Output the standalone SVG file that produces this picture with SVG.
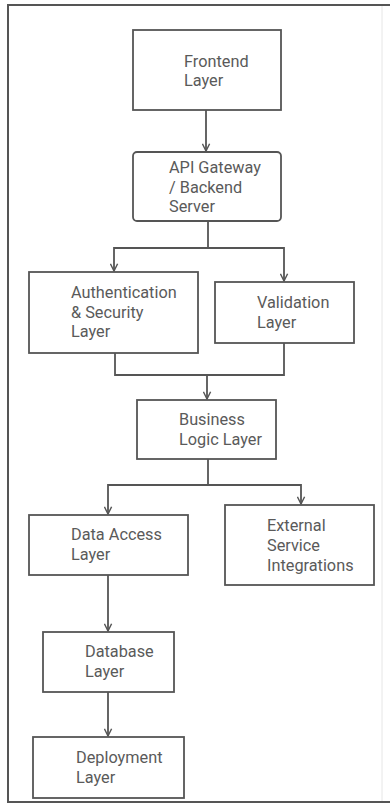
<svg xmlns="http://www.w3.org/2000/svg" width="390" height="803" viewBox="0 0 390 803">
<style>
.box{fill:#fff;stroke:#555;stroke-width:1.8}
.t{font-family:Roboto,"Liberation Sans",sans-serif;font-size:16.3px;fill:#5a5a5a}
.c{fill:none;stroke:#555;stroke-width:1.8}
</style>
<defs>
<marker id="ah" viewBox="0 0 10 10" refX="9" refY="5" markerWidth="9" markerHeight="9" markerUnits="userSpaceOnUse" orient="auto">
<path d="M1,1 L9,5 L1,9" fill="none" stroke="#555" stroke-width="1.6"/>
</marker>
</defs>
<rect width="390" height="803" fill="#fff"/>
<g id="frame">
<path d="M390,5 H8 V802 H390" fill="none" stroke="#555" stroke-width="2"/>
<line x1="382" y1="6" x2="382" y2="801" stroke="#e6e6e6" stroke-width="1"/>
</g>
<g id="connectors">
<path class="c" d="M206,110 V151" marker-end="url(#ah)"/>
<path class="c" d="M208,221 V248 H114 V271" marker-end="url(#ah)"/>
<path class="c" d="M208,248 H284 V281" marker-end="url(#ah)"/>
<path class="c" d="M115,353 V375 H284 V343"/>
<path class="c" d="M207,375 V399" marker-end="url(#ah)"/>
<path class="c" d="M208,459 V485 H108 V514" marker-end="url(#ah)"/>
<path class="c" d="M208,485 H301 V504" marker-end="url(#ah)"/>
<path class="c" d="M108,575 V631" marker-end="url(#ah)"/>
<path class="c" d="M108,692 V736" marker-end="url(#ah)"/>
</g>
<g id="frontend">
<rect class="box" x="133" y="30" width="148" height="80"/>
<text class="t" x="184" y="67">Frontend</text>
<text class="t" x="184" y="86">Layer</text>
</g>
<g id="api">
<rect class="box" x="133" y="152" width="148" height="69" rx="4"/>
<text class="t" x="169" y="173">API Gateway</text>
<text class="t" x="169" y="193">/ Backend</text>
<text class="t" x="169" y="212">Server</text>
</g>
<g id="auth">
<rect class="box" x="29" y="272" width="169" height="81"/>
<text class="t" x="71" y="298">Authentication</text>
<text class="t" x="71" y="318">&amp; Security</text>
<text class="t" x="71" y="337">Layer</text>
</g>
<g id="validation">
<rect class="box" x="215" y="282" width="139" height="61"/>
<text class="t" x="257" y="308">Validation</text>
<text class="t" x="257" y="328">Layer</text>
</g>
<g id="business">
<rect class="box" x="137" y="400" width="139" height="59"/>
<text class="t" x="179" y="425">Business</text>
<text class="t" x="179" y="445">Logic Layer</text>
</g>
<g id="dataaccess">
<rect class="box" x="29" y="515" width="159" height="60"/>
<text class="t" x="71" y="540">Data Access</text>
<text class="t" x="71" y="560">Layer</text>
</g>
<g id="external">
<rect class="box" x="225" y="505" width="149" height="80"/>
<text class="t" x="267" y="531">External</text>
<text class="t" x="267" y="551">Service</text>
<text class="t" x="267" y="571">Integrations</text>
</g>
<g id="database">
<rect class="box" x="43" y="632" width="131" height="60"/>
<text class="t" x="85" y="657">Database</text>
<text class="t" x="85" y="677">Layer</text>
</g>
<g id="deployment">
<rect class="box" x="33" y="737" width="151" height="61"/>
<text class="t" x="76" y="763">Deployment</text>
<text class="t" x="76" y="783">Layer</text>
</g>
</svg>
